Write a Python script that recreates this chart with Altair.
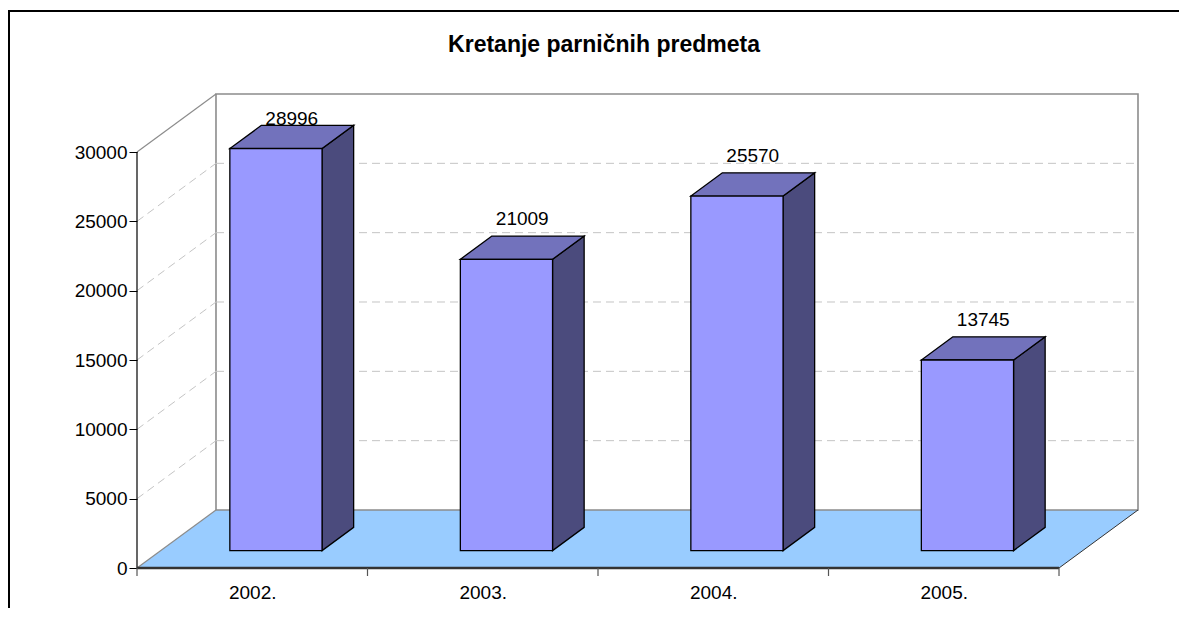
import json
import altair as alt
import pandas as pd

# ---- data ----
years = ["2002.", "2003.", "2004.", "2005."]
cases = [28996, 21009, 25570, 13745]
y_ticks = [0, 5000, 10000, 15000, 20000, 25000, 30000]
grid_levels = [5000, 10000, 15000, 20000, 25000]
title_text = "Kretanje parničnih predmeta"

# ---- geometry / style ----
W, H = 1001, 474
Y_MAX = 30000
N = len(years)
DU = 0.3427      # depth shift in category units
DV = 4183        # depth shift in value units
D0, D1 = 0.3, 0.7
HALF = 0.2
LABEL_GAP = 800
LABEL_CAP = 31950
FONT = "Liberation Sans"

xs = alt.Scale(domain=[0, N + DU], nice=False, zero=False)
ys = alt.Scale(domain=[0, Y_MAX + DV], nice=False, zero=False)

x_axis = alt.Axis(values=[i + 0.5 for i in range(N)],
                  labelExpr=f"{json.dumps(years)}[floor(datum.value)]",
                  ticks=False, domain=False, grid=False, title=None,
                  labelFontSize=19, labelFont=FONT, labelColor="black",
                  labelPadding=15, labelFlush=False)
y_axis = alt.Axis(values=y_ticks, domain=False, grid=False, title=None,
                  tickSize=8, tickColor="black", tickWidth=1,
                  labelFontSize=19, labelFont=FONT, labelColor="black",
                  labelPadding=2, format="d")


def X(f, **kw):
    return alt.X(f, type="quantitative", scale=xs, axis=x_axis, **kw)


def Y(f, **kw):
    return alt.Y(f, type="quantitative", scale=ys, axis=y_axis, **kw)


# ---- tables built from the arrays ----
bars = pd.DataFrame({"i": list(range(N)), "year": years, "value": cases})

front = bars.assign(
    x1=bars.i + 0.5 - HALF + D0 * DU,
    x2=bars.i + 0.5 + HALF + D0 * DU,
    y1=D0 * DV,
    y2=bars.value + D0 * DV,
)

side_rows, top_rows = [], []
for i, (yr, v) in enumerate(zip(years, cases)):
    for d in (D0, D1):
        side_rows.append({"year": yr, "sx": i + 0.5 + HALF + d * DU,
                          "slo": d * DV, "shi": v + d * DV})
        top_rows.append({"year": yr, "ty": v + d * DV,
                         "tx1": i + 0.5 - HALF + d * DU,
                         "tx2": i + 0.5 + HALF + d * DU})
side = pd.DataFrame(side_rows)
top = pd.DataFrame(top_rows)

labels = bars.assign(
    lx=bars.i + 0.5 + 0.5 * DU,
    ly=(bars.value + D1 * DV + LABEL_GAP).clip(upper=LABEL_CAP),
)

floor = pd.DataFrame({"fy": [0, DV], "fx1": [0, DU], "fx2": [N, N + DU]})
back_wall = pd.DataFrame({"x1": [DU], "x2": [N + DU], "y1": [DV], "y2": [Y_MAX + DV]})

grid = pd.DataFrame(
    [{"x1": DU, "x2": N + DU, "y1": g + DV, "y2": g + DV} for g in grid_levels]
    + [{"x1": 0, "x2": DU, "y1": g, "y2": g + DV} for g in grid_levels]
)
grey_edges = pd.DataFrame({"x1": [0, 0], "x2": [DU, DU],
                           "y1": [Y_MAX, 0], "y2": [Y_MAX + DV, DV]})
front_axis = pd.DataFrame({"x1": [0], "y1": [0], "y2": [Y_MAX]})
floor_front = pd.DataFrame({"x1": [0], "x2": [N], "y1": [0]})
floor_right = pd.DataFrame({"x1": [N], "x2": [N + DU], "y1": [0], "y2": [DV]})
x_ticks = pd.DataFrame({"t": list(range(N + 1))})
one = pd.DataFrame({"title": [title_text]})

# ---- layers ----
floor_l = alt.Chart(floor).mark_area(orient="horizontal", color="#99CCFF").encode(
    y=Y("fy"), x=X("fx1", stack=None), x2="fx2")

wall_l = alt.Chart(back_wall).mark_rect(fill="white", stroke="#8c8c8c", strokeWidth=1.6).encode(
    x=X("x1"), x2="x2", y=Y("y1"), y2="y2")

grid_l = alt.Chart(grid).mark_rule(color="#c4c4c4", strokeDash=[8, 5], strokeWidth=1).encode(
    x=X("x1"), x2="x2", y=Y("y1"), y2="y2")

grey_l = alt.Chart(grey_edges).mark_rule(color="#8c8c8c", strokeWidth=1.2).encode(
    x=X("x1"), x2="x2", y=Y("y1"), y2="y2")

axis_l = alt.Chart(front_axis).mark_rule(color="black", strokeWidth=1.2).encode(
    x=X("x1"), y=Y("y1"), y2="y2")

ffront_l = alt.Chart(floor_front).mark_rule(color="#333333", strokeWidth=2.5).encode(
    x=X("x1"), x2="x2", y=Y("y1"))

fright_l = alt.Chart(floor_right).mark_rule(color="#333333", strokeWidth=1).encode(
    x=X("x1"), x2="x2", y=Y("y1"), y2="y2")

xtick_l = alt.Chart(x_ticks).mark_rule(color="#555555", strokeWidth=1.2).encode(
    x=X("t"), y=alt.value(H), y2=alt.value(H + 8))

side_l = alt.Chart(side).mark_area(color="#4B4B7D", stroke="black", strokeWidth=1.3).encode(
    x=X("sx"), y=Y("shi", stack=None), y2="slo", detail="year:N")

top_l = alt.Chart(top).mark_area(orient="horizontal", color="#7272BC", stroke="black",
                                 strokeWidth=1.3).encode(
    y=Y("ty"), x=X("tx1", stack=None), x2="tx2", detail="year:N")

front_l = alt.Chart(front).mark_rect(color="#9999FF", stroke="black", strokeWidth=1.3).encode(
    x=X("x1"), x2="x2", y=Y("y1"), y2="y2")

label_l = alt.Chart(labels).mark_text(font=FONT, fontSize=19, color="black",
                                      baseline="alphabetic", align="center").encode(
    x=X("lx"), y=Y("ly"), text=alt.Text("value:Q", format="d"))

border_left = alt.Chart(one).mark_rule(color="black", strokeWidth=2).encode(
    x=alt.value(-128), y=alt.value(-83), y2=alt.value(H + 200))
border_top = alt.Chart(one).mark_rule(color="black", strokeWidth=2).encode(
    x=alt.value(-129), x2=alt.value(W + 200), y=alt.value(-83))

title_l = alt.Chart(one).mark_text(font=FONT, fontSize=23, fontWeight="bold", color="black",
                                   baseline="alphabetic", align="center").encode(
    x=alt.value(467), y=alt.value(-42), text="title:N")

chart = alt.layer(
    floor_l, wall_l, grid_l, grey_l, axis_l, ffront_l, fright_l, xtick_l,
    side_l, top_l, front_l, label_l, border_left, border_top, title_l,
).properties(
    width=W, height=H,
    autosize=alt.AutoSizeParams(type="none"),
    padding={"left": 129, "top": 86, "right": 41, "bottom": 40},
    background="white",
).configure_view(stroke=None)

chart.save("out.html", embed_options={"renderer": "svg", "actions": False})
